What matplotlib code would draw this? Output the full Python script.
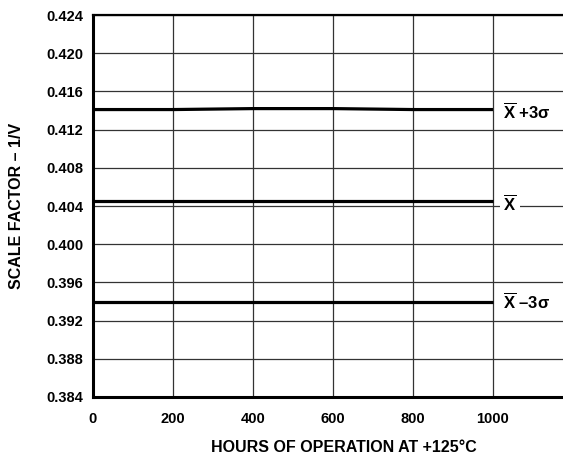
import matplotlib
matplotlib.use('Agg')
import matplotlib.pyplot as plt

plt.rcParams['font.family'] = ['Liberation Sans', 'DejaVu Sans']
plt.rcParams['font.weight'] = 'bold'
plt.rcParams['mathtext.fontset'] = 'custom'
plt.rcParams['mathtext.rm'] = 'Liberation Sans:bold'
plt.rcParams['mathtext.bf'] = 'Liberation Sans:bold'
plt.rcParams['mathtext.it'] = 'Liberation Sans:bold'

# hours of operation and scale factor drift (1/V)
hours = [0, 200, 400, 600, 800, 1000]
plus_3sigma = [0.4141, 0.4141, 0.4142, 0.4142, 0.4141, 0.4141]
mean = [0.4045, 0.4045, 0.4045, 0.4045, 0.4045, 0.4045]
minus_3sigma = [0.3939, 0.3939, 0.3939, 0.3939, 0.3939, 0.3939]

curve_labels = [r'$\overline{\mathrm{X}}$ +3σ', r'$\overline{\mathrm{X}}$', r'$\overline{\mathrm{X}}$ –3σ']

x_ticks = [0, 200, 400, 600, 800, 1000]
y_ticks = [0.384, 0.388, 0.392, 0.396, 0.400, 0.404, 0.408, 0.412, 0.416, 0.420, 0.424]

fig = plt.figure(figsize=(5.63, 4.55), dpi=100)
ax = fig.add_axes([0.165, 0.1275, 0.835, 0.8395])

ax.set_xlim(0, 1175)
ax.set_ylim(0.384, 0.424)
ax.set_xticks(x_ticks)
ax.set_xticklabels([str(t) for t in x_ticks])
ax.set_yticks(y_ticks)
ax.set_yticklabels(['%.3f' % t for t in y_ticks])
ax.tick_params(axis='both', length=0, labelsize=10.5)
ax.tick_params(axis='y', pad=7)
ax.tick_params(axis='x', pad=10.5)
ax.grid(True, color='#333333', linewidth=0.9)
ax.set_axisbelow(True)

for side in ['left', 'bottom']:
    ax.spines[side].set_linewidth(2.2)
ax.spines['top'].set_linewidth(1.6)
ax.spines['right'].set_visible(False)

offsets = [-7, -6.5, -4.5]
for series, label, dy in zip([plus_3sigma, mean, minus_3sigma], curve_labels, offsets):
    ax.plot(hours, series, color='black', linewidth=2.3, solid_capstyle='butt')
    ax.annotate(label, xy=(1026, series[-1]), xytext=(0, dy), textcoords='offset points',
                ha='left', va='baseline', fontsize=12, fontweight='bold',
                bbox=dict(facecolor='white', edgecolor='none', pad=2.5))

ax.set_ylabel('SCALE FACTOR – 1/V', fontsize=11.5, fontweight='bold')
ax.yaxis.set_label_coords(-0.147, 0.5)
fig.text(344 / 563, 1 - 448 / 455, 'HOURS OF OPERATION AT +125°C',
         ha='center', va='center', fontsize=11.5, fontweight='bold')

fig.savefig('out.png', dpi=100)
